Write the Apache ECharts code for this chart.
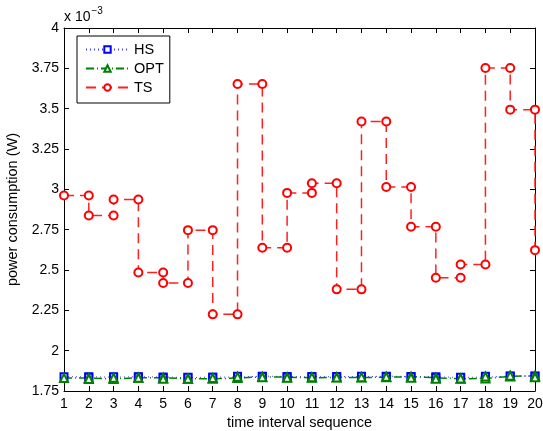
<!DOCTYPE html>
<html>
<head>
<meta charset="utf-8">
<script src="https://cdn.jsdelivr.net/npm/echarts@6/dist/echarts.min.js"></script>
<style>
  html, body { margin: 0; padding: 0; background: #fff; }
  #chart { width: 543px; height: 431px; }
</style>
</head>
<body>
<div id="chart"></div>
<script>
  // power per interval, in units of 1e-3 W (last value is the point at x = 20)
  var intervals = [1,2,3,4,5,6,7,8,9,10,11,12,13,14,15,16,17,18,19,20];
  var hs  = [1.838,1.836,1.838,1.837,1.833,1.836,1.836,1.842,1.840,1.837,1.840,1.838,1.842,1.840,1.838,1.834,1.836,1.842,1.843,1.842];
  var opt = [1.830,1.825,1.832,1.832,1.826,1.826,1.830,1.838,1.836,1.832,1.835,1.833,1.836,1.838,1.832,1.826,1.828,1.840,1.845,1.835];
  var ts  = [2.962,2.838,2.937,2.485,2.419,2.747,2.225,3.653,2.638,2.978,3.038,2.380,3.420,3.015,2.768,2.452,2.534,3.752,3.494,2.623];
  var yTicks = [1.75, 2, 2.25, 2.5, 2.75, 3, 3.25, 3.5, 3.75, 4];

  // each value holds from interval k to k+1, marker at both ends
  function steps(vals) {
    var out = [];
    for (var i = 0; i < vals.length - 1; i++) {
      out.push([intervals[i], vals[i]]);
      out.push([intervals[i + 1], vals[i]]);
    }
    out.push([intervals[vals.length - 1], vals[vals.length - 1]]);
    return out;
  }

  var font = 'Liberation Sans, Arial, Helvetica, sans-serif';
  var chart = echarts.init(document.getElementById('chart'));

  var axisCommon = {
    axisLine: { show: true, lineStyle: { color: '#000', width: 1 } },
    axisTick: { show: true, inside: true, length: 5, lineStyle: { color: '#000' } },
    splitLine: { show: false }
  };

  option = {
    animation: false,
    backgroundColor: '#fff',
    textStyle: { fontFamily: font },
    grid: { left: 64, right: 8, top: 28, bottom: 40, containLabel: false, outerBoundsMode: 'none' },
    legend: {
      left: 77, top: 36,
      orient: 'vertical',
      backgroundColor: '#fff',
      borderColor: '#000',
      borderWidth: 1,
      borderRadius: 0,
      padding: [6, 6, 8, 8],
      itemGap: 4,
      itemWidth: 43,
      itemHeight: 8,
      textStyle: { fontFamily: font, fontSize: 14.5, color: '#000' },
      data: ['HS', 'OPT', 'TS']
    },
    graphic: [{
      type: 'text',
      left: 64, top: 6,
      style: {
        text: '{a|x 10}{b|−3}',
        fontFamily: font,
        rich: {
          a: { fontSize: 14, fill: '#000', fontFamily: font, padding: [6, 0, 0, 0] },
          b: { fontSize: 10, fill: '#000', fontFamily: font, padding: [0, 0, 6, 1] }
        }
      }
    }],
    xAxis: [
      Object.assign({
        type: 'value', min: 1, max: 20, interval: 1, position: 'bottom',
        name: 'time interval sequence', nameLocation: 'middle', nameGap: 24,
        nameTextStyle: { fontSize: 14.5, color: '#000', fontFamily: font },
        axisLabel: { fontSize: 14, color: '#000', margin: 6, fontFamily: font }
      }, axisCommon),
      Object.assign({
        type: 'value', min: 1, max: 20, interval: 1, position: 'top',
        axisLabel: { show: false }
      }, axisCommon)
    ],
    yAxis: [
      Object.assign({
        type: 'value', min: yTicks[0], max: yTicks[yTicks.length - 1], interval: 0.25,
        position: 'left',
        name: 'power consumption (W)', nameLocation: 'middle', nameGap: 38,
        nameTextStyle: { fontSize: 14.5, color: '#000', fontFamily: font },
        axisLabel: { fontSize: 14, color: '#000', margin: 5, fontFamily: font }
      }, axisCommon),
      Object.assign({
        type: 'value', min: yTicks[0], max: yTicks[yTicks.length - 1], interval: 0.25,
        position: 'right',
        axisLabel: { show: false }
      }, axisCommon)
    ],
    series: [
      {
        name: 'HS', type: 'line', data: steps(hs), clip: false,
        symbol: 'emptyRect', symbolSize: 7,
        itemStyle: { color: '#0000ff', borderWidth: 1 },
        lineStyle: { color: '#4040ff', width: 1, type: [1, 3] }
      },
      {
        name: 'OPT', type: 'line', data: steps(opt), clip: false,
        symbol: 'emptyTriangle', symbolSize: 8,
        itemStyle: { color: '#008000', borderWidth: 1.2 },
        lineStyle: { color: '#008000', width: 1.5, type: [8, 3, 1, 3] }
      },
      {
        name: 'TS', type: 'line', data: steps(ts), clip: false,
        symbol: 'emptyCircle', symbolSize: 8,
        itemStyle: { color: '#ff0000', borderWidth: 1.2 },
        lineStyle: { color: '#ff2020', width: 1.5, type: [10, 6] }
      }
    ]
  };
  chart.setOption(option);
</script>
</body>
</html>
